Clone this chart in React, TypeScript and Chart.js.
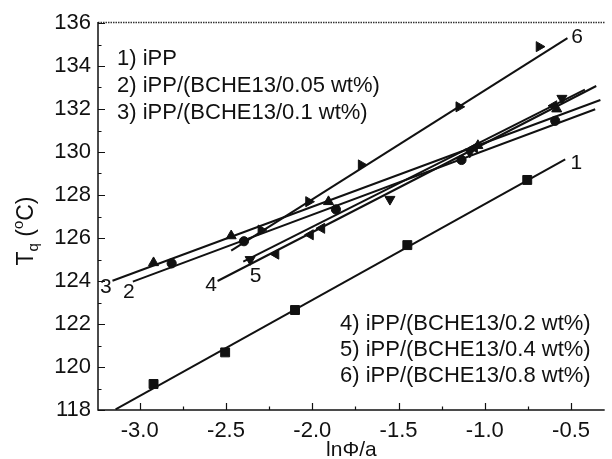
import { useEffect, useRef } from "react";
import { Chart, registerables } from "chart.js";

Chart.register(...registerables);

const FONT = "'Liberation Sans', Arial, Helvetica, sans-serif";

// Axis ranges and ticks
const X_MIN = -3.242;
const X_MAX = -0.305;
const Y_MIN = 118;
const Y_MAX = 136;
const xMajorTicks = [-3.0, -2.5, -2.0, -1.5, -1.0, -0.5];
const xMinorTicks = [-2.75, -2.25, -1.75, -1.25, -0.75];
const yMajorTicks = [118, 120, 122, 124, 126, 128, 130, 132, 134, 136];
const yMinorTicks = [119, 121, 123, 125, 127, 129, 131, 133, 135];

// Legend / labels
const legendTop = ["1) iPP", "2) iPP/(BCHE13/0.05 wt%)", "3) iPP/(BCHE13/0.1 wt%)"];
const legendBottom = ["4) iPP/(BCHE13/0.2 wt%)", "5) iPP/(BCHE13/0.4 wt%)", "6) iPP/(BCHE13/0.8 wt%)"];
const lineLabels = ["1", "2", "3", "4", "5", "6"];
const lineLabelX = [-0.47, -3.063, -3.196, -2.586, -2.329, -0.465];
const lineLabelY = [129.49, 123.5, 123.73, 123.81, 124.2, 135.33];
const xTitle = "lnΦ/a";

// Measured points
const s1X = [-2.92, -2.505, -2.1, -1.449, -0.754];
const s1Y = [119.21, 120.68, 122.65, 125.67, 128.7];
const s2X = [-2.815, -2.396, -1.863, -1.135, -0.592];
const s2Y = [124.82, 125.85, 127.33, 129.63, 131.45];
const s3X = [-2.92, -2.47, -1.906, -1.04, -0.583];
const s3Y = [124.85, 126.1, 127.69, 130.3, 132.0];
const s4X = [-2.211, -2.011, -1.945, -1.06, -0.6];
const s4Y = [125.25, 126.15, 126.45, 130.2, 132.15];
const s5X = [-2.36, -1.55, -1.087, -0.553];
const s5Y = [125.0, 127.8, 130.0, 132.5];
const s6X = [-2.297, -2.021, -1.716, -1.15, -0.685];
const s6Y = [126.37, 127.69, 129.4, 132.1, 134.9];

// Linear fit lines (end points)
const fit1X = [-3.14, -0.534];
const fit1Y = [118.03, 129.66];
const fit2X = [-3.04, -0.36];
const fit2Y = [123.97, 131.99];
const fit3X = [-3.158, -0.33];
const fit3Y = [124.01, 132.42];
const fit4X = [-2.549, -0.354];
const fit4Y = [124.0, 133.07];
const fit5X = [-2.4, -0.42];
const fit5Y = [124.9, 132.9];
const fit6X = [-2.47, -0.521];
const fit6Y = [125.41, 135.3];

const seriesX = [s1X, s2X, s3X, s4X, s5X, s6X];
const seriesY = [s1Y, s2Y, s3Y, s4Y, s5Y, s6Y];
const fitsX = [fit1X, fit2X, fit3X, fit4X, fit5X, fit6X];
const fitsY = [fit1Y, fit2Y, fit3Y, fit4Y, fit5Y, fit6Y];
const pointStyles = ["rect", "circle", "triangle", "triangle", "triangle", "triangle"];
const pointRotations = [0, 0, 0, 270, 180, 90];
const pointRadii = [6.3, 4.6, 5.8, 5.8, 5.8, 5.8];

const zip = (xs: number[], ys: number[]) => xs.map((x, i) => ({ x, y: ys[i] }));

const decorPlugin = {
  id: "decor",
  afterDraw(chart: any) {
    const { ctx, chartArea } = chart;
    const xs = chart.scales.x;
    const ys = chart.scales.y;
    const { left, right, top, bottom } = chartArea;
    ctx.save();
    ctx.strokeStyle = "#111";
    ctx.fillStyle = "#111";

    // top border (dotted)
    ctx.save();
    ctx.strokeStyle = "#333";
    ctx.lineWidth = 1.3;
    ctx.setLineDash([1.5, 1]);
    ctx.beginPath();
    ctx.moveTo(left, top - 0.5);
    ctx.lineTo(right, top - 0.5);
    ctx.stroke();
    ctx.restore();

    // axes
    ctx.lineWidth = 1.5;
    ctx.beginPath();
    ctx.moveTo(left, top - 1);
    ctx.lineTo(left, bottom);
    ctx.lineTo(right, bottom);
    ctx.stroke();

    // inward ticks
    ctx.lineWidth = 1.2;
    ctx.beginPath();
    xMajorTicks.forEach((v) => {
      const p = Math.round(xs.getPixelForValue(v)) + 0.5;
      ctx.moveTo(p, bottom);
      ctx.lineTo(p, bottom - 7);
    });
    xMinorTicks.forEach((v) => {
      const p = Math.round(xs.getPixelForValue(v)) + 0.5;
      ctx.moveTo(p, bottom);
      ctx.lineTo(p, bottom - 3.5);
    });
    yMajorTicks.forEach((v) => {
      const p = Math.round(ys.getPixelForValue(v)) + 0.5;
      ctx.moveTo(left, p);
      ctx.lineTo(left + 7, p);
    });
    yMinorTicks.forEach((v) => {
      const p = Math.round(ys.getPixelForValue(v)) + 0.5;
      ctx.moveTo(left, p);
      ctx.lineTo(left + 3.5, p);
    });
    ctx.stroke();

    // line labels
    ctx.font = "21px " + FONT;
    ctx.textAlign = "center";
    ctx.textBaseline = "middle";
    lineLabels.forEach((t, i) => {
      ctx.fillText(t, xs.getPixelForValue(lineLabelX[i]), ys.getPixelForValue(lineLabelY[i]));
    });

    // legends
    ctx.font = "22px " + FONT;
    ctx.textAlign = "left";
    ctx.textBaseline = "alphabetic";
    legendTop.forEach((t, i) => ctx.fillText(t, 117, 64.5 + i * 27));
    legendBottom.forEach((t, i) => ctx.fillText(t, 340, 329.5 + i * 26.3));

    // x title
    ctx.font = "21px " + FONT;
    ctx.textAlign = "center";
    ctx.fillText(xTitle, (left + right) / 2, 456);

    // y title T_q (°C)
    ctx.save();
    ctx.translate(33, 231);
    ctx.rotate(-Math.PI / 2);
    const big = "23px " + FONT;
    const small = "15px " + FONT;
    const parts = [
      { t: "T", f: big, dy: 0 },
      { t: "q", f: small, dy: 5 },
      { t: " (", f: big, dy: 0 },
      { t: "o", f: small, dy: -10 },
      { t: "C)", f: big, dy: 0 },
    ];
    let total = 0;
    parts.forEach((p) => {
      ctx.font = p.f;
      total += ctx.measureText(p.t).width;
    });
    let x = -total / 2;
    ctx.textAlign = "left";
    parts.forEach((p) => {
      ctx.font = p.f;
      ctx.fillText(p.t, x, p.dy);
      x += ctx.measureText(p.t).width;
    });
    ctx.restore();

    ctx.restore();
  },
};

export default function App() {
  const canvasRef = useRef<HTMLCanvasElement | null>(null);

  useEffect(() => {
    if (!canvasRef.current) return;
    const datasets: any[] = [];
    fitsX.forEach((fx, i) => {
      datasets.push({
        type: "line",
        data: zip(fx, fitsY[i]),
        borderColor: "#111",
        borderWidth: 2,
        pointRadius: 0,
        showLine: true,
        fill: false,
      });
    });
    seriesX.forEach((sx, i) => {
      datasets.push({
        type: "scatter",
        data: zip(sx, seriesY[i]),
        showLine: false,
        pointStyle: pointStyles[i],
        rotation: pointRotations[i],
        pointRadius: pointRadii[i],
        backgroundColor: "#111",
        borderColor: "#111",
        borderWidth: 1,
      });
    });

    const chart = new Chart(canvasRef.current, {
      type: "scatter",
      data: { datasets },
      plugins: [decorPlugin],
      options: {
        animation: false,
        responsive: false,
        devicePixelRatio: 1,
        layout: { padding: { top: 23, right: 0, left: 0, bottom: 0 } },
        plugins: { legend: { display: false }, tooltip: { enabled: false }, title: { display: false } },
        scales: {
          x: {
            type: "linear",
            min: X_MIN,
            max: X_MAX,
            afterBuildTicks: (s: any) => {
              s.ticks = xMajorTicks.map((v) => ({ value: v }));
            },
            afterFit: (s: any) => {
              s.height = 49;
            },
            ticks: {
              autoSkip: false,
              maxRotation: 0,
              padding: 8,
              color: "#111",
              font: { family: FONT, size: 22 },
              callback: (v: any) => Number(v).toFixed(1),
            },
            grid: { display: false, drawTicks: false },
            border: { display: false },
          },
          y: {
            type: "linear",
            min: Y_MIN,
            max: Y_MAX,
            afterBuildTicks: (s: any) => {
              s.ticks = yMajorTicks.map((v) => ({ value: v }));
            },
            afterFit: (s: any) => {
              s.width = 98;
            },
            ticks: {
              autoSkip: false,
              padding: 7,
              color: "#111",
              font: { family: FONT, size: 22 },
              callback: (v: any) => String(v),
            },
            grid: { display: false, drawTicks: false },
            border: { display: false },
          },
        },
      },
    } as any);
    return () => chart.destroy();
  }, []);

  return (
    <div style={{ position: "absolute", left: 0, top: 0, width: 612, height: 459, background: "#fff" }}>
      <canvas ref={canvasRef} width={612} height={459} style={{ display: "block" }} />
    </div>
  );
}
